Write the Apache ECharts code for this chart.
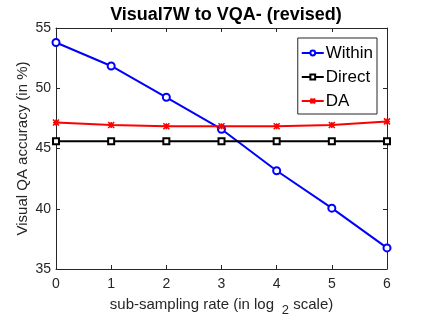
<!DOCTYPE html>
<html>
<head>
<meta charset="utf-8">
<script src="https://cdn.jsdelivr.net/npm/echarts@6/dist/echarts.min.js"></script>
<style>
  html, body { margin: 0; padding: 0; background: #fff; }
  #chart { width: 428px; height: 321px; }
</style>
</head>
<body>
<div id="chart"></div>
<script>
const rates = [0, 1, 2, 3, 4, 5, 6]
const withinVals = [53.8, 51.85, 49.25, 46.6, 43.15, 40.05, 36.75]
const directVals = [45.6, 45.6, 45.6, 45.6, 45.6, 45.6, 45.6]
const daVals = [47.15, 46.95, 46.85, 46.85, 46.85, 46.95, 47.25]

const font = 'Liberation Sans'
const crossPath = 'path://M0,0 L10,10 M10,0 L0,10 M5,0 L5,10 M0,5 L10,5'

const pairs = vals => rates.map((r, i) => [r, vals[i]])

const chart = echarts.init(document.getElementById('chart'))

const baseX = {
  type: 'value', min: 0, max: 6, interval: 1,
  axisLine: { show: true, onZero: false, lineStyle: { color: '#262626', width: 1 } },
  axisTick: { show: true, inside: true, length: 4, lineStyle: { color: '#262626' } },
  splitLine: { show: false }
}
const baseY = {
  type: 'value', min: 35, max: 55, interval: 5,
  axisLine: { show: true, onZero: false, lineStyle: { color: '#262626', width: 1 } },
  axisTick: { show: true, inside: true, length: 4, lineStyle: { color: '#262626' } },
  splitLine: { show: false }
}

chart.setOption({
  animation: false,
  title: {
    text: 'Visual7W to VQA- (revised)',
    left: 221, top: 1, textAlign: 'center',
    textStyle: { fontFamily: font, fontSize: 18, fontWeight: 'bold', color: '#000' }
  },
  grid: { left: 56, right: 41, top: 28, bottom: 52, containLabel: false, outerBoundsMode: 'none' },
  legend: {
    right: 51, top: 38,
    orient: 'vertical',
    backgroundColor: '#fff',
    borderColor: '#262626', borderWidth: 1,
    padding: [5, 4, 3, 3],
    itemGap: 4,
    itemWidth: 22, itemHeight: 6,
    textStyle: { fontFamily: font, fontSize: 17, color: '#000', padding: [0, 0, 0, -3], lineHeight: 20 },
    data: ['Within', 'Direct', 'DA']
  },
  xAxis: [
    Object.assign({}, baseX, {
      position: 'bottom',
      name: '{a|sub-sampling rate (in log }{s| 2}{a| scale)}',
      nameLocation: 'middle', nameGap: 23, nameMoveOverlap: false,
      nameTextStyle: {
        rich: {
          a: { fontFamily: font, fontSize: 15, color: '#262626' },
          s: { fontFamily: font, fontSize: 13, color: '#262626', padding: [12, 0, 0, 0] }
        }
      },
      axisLabel: { fontFamily: font, fontSize: 14, color: '#262626', margin: 8 }
    }),
    Object.assign({}, baseX, { position: 'top', axisLabel: { show: false } })
  ],
  yAxis: [
    Object.assign({}, baseY, {
      position: 'left',
      name: 'Visual QA accuracy (in %)',
      nameLocation: 'middle', nameGap: 26, nameMoveOverlap: false,
      nameTextStyle: { fontFamily: font, fontSize: 15, color: '#262626' },
      axisLabel: { fontFamily: font, fontSize: 14, color: '#262626', margin: 5 }
    }),
    Object.assign({}, baseY, { position: 'right', axisLabel: { show: false } })
  ],
  series: [
    {
      name: 'Within', type: 'line', data: pairs(withinVals),
      symbol: 'emptyCircle', symbolSize: 7,
      lineStyle: { color: '#0000ff', width: 2 },
      itemStyle: { color: '#0000ff', borderWidth: 1.5 }
    },
    {
      name: 'Direct', type: 'line', data: pairs(directVals),
      symbol: 'emptyRect', symbolSize: 6,
      lineStyle: { color: '#000', width: 2 },
      itemStyle: { color: '#000', borderWidth: 1.5 }
    },
    {
      name: 'DA', type: 'line', data: pairs(daVals),
      symbol: crossPath, symbolSize: 6,
      lineStyle: { color: '#ff0000', width: 2 },
      itemStyle: { color: '#ff0000', borderColor: '#ff0000', borderWidth: 1.5 }
    }
  ]
})
</script>
</body>
</html>
